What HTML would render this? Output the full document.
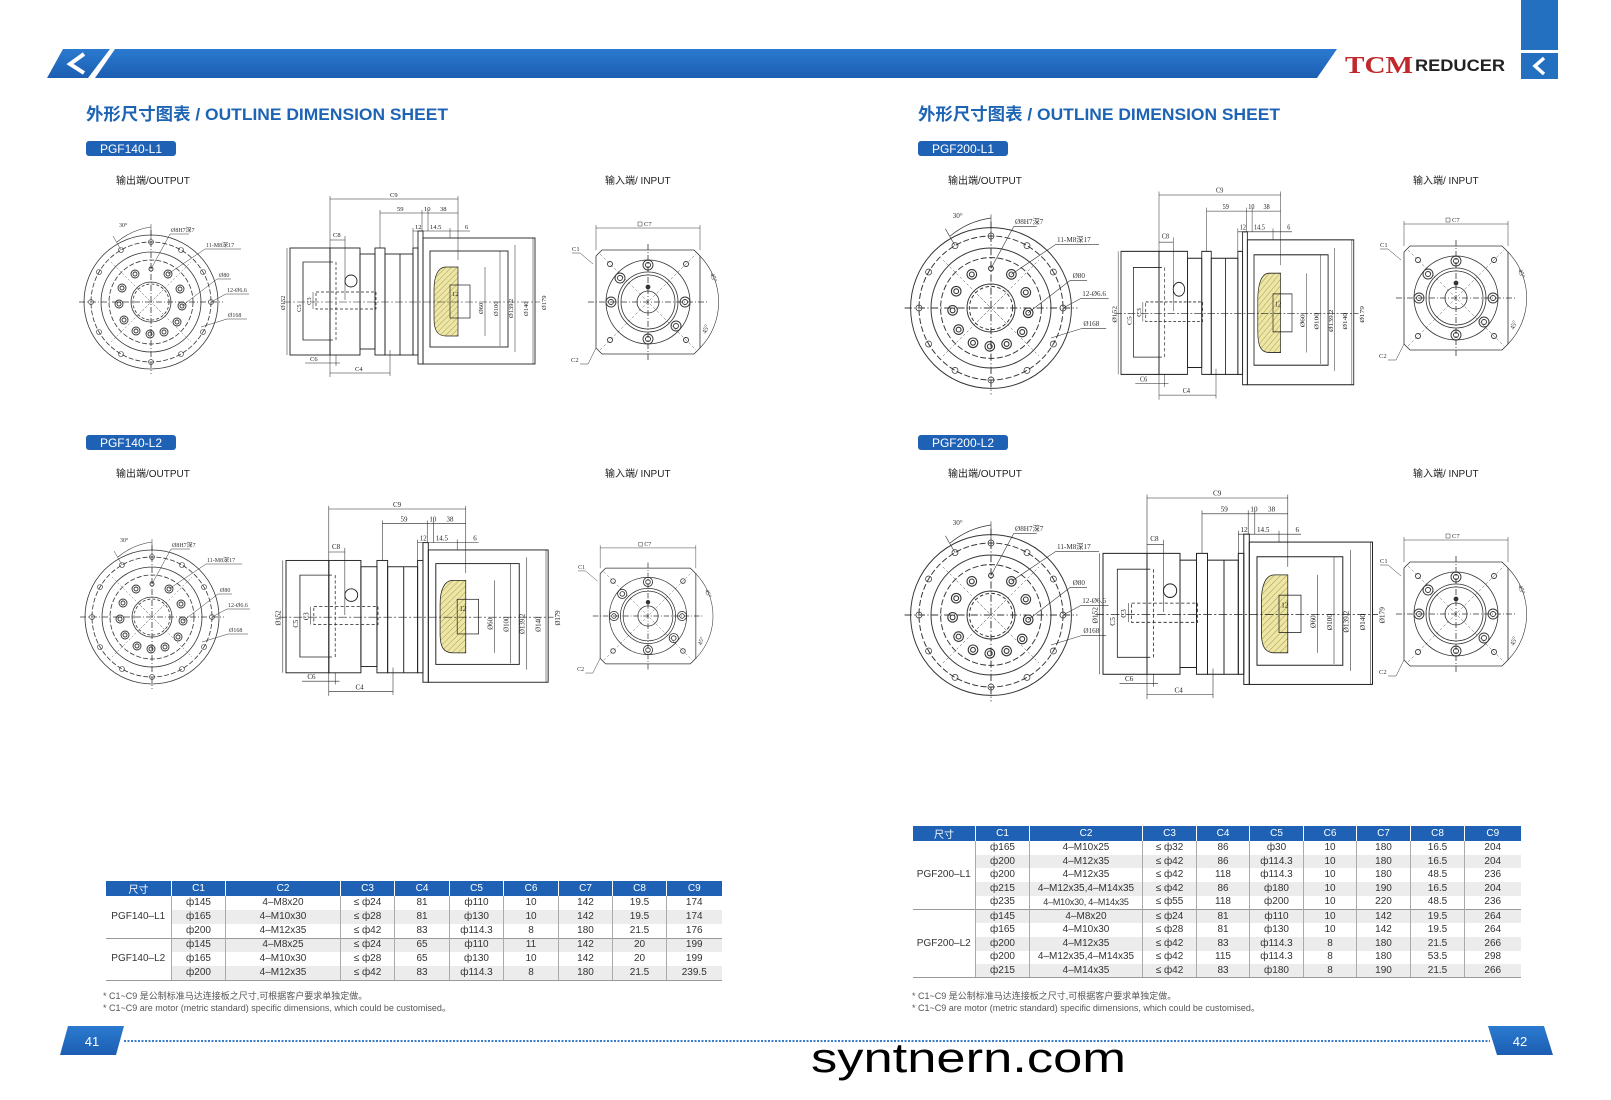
<!DOCTYPE html>
<html><head><meta charset="utf-8">
<style>
html,body{margin:0;padding:0;background:#fff;}
body{width:1611px;height:1100px;position:relative;overflow:hidden;font-family:"Liberation Sans","Noto Sans CJK SC",sans-serif;}
.tbl{position:absolute;border-collapse:collapse;font-size:10px;color:#333;table-layout:fixed;}
.tbl th{background:#1f62b5;color:#fff;font-weight:normal;border-left:1px solid #fff;padding:0;}
.tbl td{border-left:1px solid #aaa;padding:0;text-align:center;white-space:nowrap;overflow:hidden;line-height:12px;}
.tbl tr.g td.v{background:#ececec;}
.tbl td.m{background:#fff;text-align:center;}
.tbl tr.last td{border-bottom:1px solid #999;}
.tbl tr.sep td{border-top:1px solid #999;}
.note{position:absolute;font-size:9px;color:#555;line-height:12px;}
</style></head><body>
<svg width="1611" height="1100" viewBox="0 0 1611 1100" style="position:absolute;left:0;top:0">
<defs>
<linearGradient id="bg" x1="0" y1="0" x2="0" y2="1"><stop offset="0" stop-color="#2a7ad0"/><stop offset="1" stop-color="#1c5eb2"/></linearGradient>
<pattern id="hatch" width="4" height="4" patternUnits="userSpaceOnUse" patternTransform="rotate(45)"><rect width="4" height="4" fill="#eee6a6"/><line x1="0" y1="0" x2="0" y2="4" stroke="#a8a050" stroke-width="1"/></pattern>

<g id="ov" fill="none" stroke="#333" stroke-width="0.8">
 <circle r="67"/><circle r="60" stroke-dasharray="5 2"/><circle r="50"/><circle r="42" stroke-dasharray="5 2"/><circle r="20"/><circle r="18" stroke-dasharray="3 2"/>
 <line x1="-72" y1="0" x2="72" y2="0" stroke-dasharray="6 2 1 2"/><line x1="0" y1="-72" x2="0" y2="72" stroke-dasharray="6 2 1 2"/>
 <g stroke-width="0.6">
 <circle cx="0" cy="-60" r="2.5"/><circle cx="30" cy="-52" r="2.5"/><circle cx="52" cy="-30" r="2.5"/><circle cx="60" cy="0" r="2.5"/><circle cx="52" cy="30" r="2.5"/><circle cx="30" cy="52" r="2.5"/><circle cx="0" cy="60" r="2.5"/><circle cx="-30" cy="52" r="2.5"/><circle cx="-52" cy="30" r="2.5"/><circle cx="-60" cy="0" r="2.5"/><circle cx="-52" cy="-30" r="2.5"/><circle cx="-30" cy="-52" r="2.5"/>
 </g>
 <g stroke-width="0.9">
 <circle cx="0" cy="-33" r="2"/>
 <circle cx="17" cy="-28" r="4"/><circle cx="17" cy="-28" r="2"/><circle cx="29" cy="-13" r="4"/><circle cx="29" cy="-13" r="2"/><circle cx="31" cy="4" r="4"/><circle cx="31" cy="4" r="2"/><circle cx="26" cy="20" r="4"/><circle cx="26" cy="20" r="2"/><circle cx="13" cy="30" r="4"/><circle cx="13" cy="30" r="2"/><circle cx="-1" cy="32" r="4"/><circle cx="-1" cy="32" r="2"/><circle cx="-15" cy="29" r="4"/><circle cx="-15" cy="29" r="2"/><circle cx="-27" cy="18" r="4"/><circle cx="-27" cy="18" r="2"/><circle cx="-32" cy="2" r="4"/><circle cx="-32" cy="2" r="2"/><circle cx="-29" cy="-14" r="4"/><circle cx="-29" cy="-14" r="2"/><circle cx="-16" cy="-28" r="4"/><circle cx="-16" cy="-28" r="2"/>
 </g>
 <g stroke-width="0.4" stroke-dasharray="2 2"><line x1="-14" y1="-14" x2="14" y2="14"/><line x1="-14" y1="14" x2="14" y2="-14"/><line x1="-40" y1="-40" x2="40" y2="40"/><line x1="-40" y1="40" x2="40" y2="-40"/></g>
 <path d="M-34 -60 A68 68 0 0 1 0 -75" stroke-width="0.6"/><line x1="0" y1="-60" x2="0" y2="-78" stroke-width="0.5"/><line x1="-30" y1="-52" x2="-38" y2="-66" stroke-width="0.5"/>
 <g stroke-width="0.5"><polyline points="0,-33 19,-68 38,-68"/><polyline points="17,-28 54,-53 90,-53"/><polyline points="31,4 66,-23 80,-23"/><polyline points="60,0 75,-8 98,-8"/><polyline points="50,25 76,17 96,17"/></g>
 <g fill="#333" stroke="none" font-family="Liberation Serif,serif" font-size="6"><text x="-32" y="-75">30°</text><text x="20" y="-70">Ø8H7深7</text><text x="55" y="-55">11-M8深17</text><text x="68" y="-25">Ø80</text><text x="76" y="-10">12-Ø6.6</text><text x="77" y="15">Ø168</text></g>
</g>

<g id="iv" fill="none" stroke="#333" stroke-width="0.8">
 <path d="M-46 -52 H46 L52 -46 V46 L46 52 H-46 L-52 46 V-46 Z"/>
 <line x1="-52" y1="-52" x2="-52" y2="-77" stroke-width="0.5"/><line x1="52" y1="-52" x2="52" y2="-77" stroke-width="0.5"/><line x1="-52" y1="-74" x2="52" y2="-74" stroke-width="0.5"/>
 <rect x="-10" y="-80" width="4" height="4" stroke-width="0.5"/>
 <circle r="42"/><circle r="30"/><circle r="27"/><circle r="11"/>
 <line x1="-60" y1="0" x2="60" y2="0" stroke-dasharray="6 2 1 2"/><line x1="0" y1="-58" x2="0" y2="58" stroke-dasharray="6 2 1 2"/>
 <g stroke-width="0.4" stroke-dasharray="3 2"><line x1="-48" y1="-48" x2="48" y2="48"/><line x1="-48" y1="48" x2="48" y2="-48"/></g>
 <g stroke-width="0.9"><circle cx="0" cy="-37" r="5"/><circle cx="0" cy="-37" r="2.5"/><circle cx="0" cy="37" r="5"/><circle cx="0" cy="37" r="2.5"/><circle cx="-37" cy="0" r="5"/><circle cx="-37" cy="0" r="2.5"/><circle cx="37" cy="0" r="5"/><circle cx="37" cy="0" r="2.5"/><circle cx="-28" cy="-24" r="5"/><circle cx="-28" cy="-24" r="2.5"/><circle cx="28" cy="24" r="5"/><circle cx="28" cy="24" r="2.5"/><circle cx="-38" cy="-38" r="2.5"/><circle cx="38" cy="-38" r="2.5"/><circle cx="-38" cy="38" r="2.5"/><circle cx="38" cy="38" r="2.5"/></g>
 <circle cx="0" cy="-15" r="2" fill="#333"/>
 <path d="M52 -46 A66 66 0 0 1 52 46" stroke-width="0.6"/>
 <g stroke-width="0.5"><polyline points="-76,-49 -68,-49 -55,-38"/><polyline points="-68,62 -60,62 -52,46"/></g>
 <g fill="#333" stroke="none" font-family="Liberation Serif,serif" font-size="6.5"><text x="-4" y="-76">C7</text><text x="-76" y="-51">C1</text><text x="-77" y="60">C2</text><text x="62" y="-28" transform="rotate(70 62 -28)">45°</text><text x="58" y="32" transform="rotate(-70 58 32)">45°</text></g>
</g>

<g id="sv" fill="none" stroke="#222" stroke-width="0.9">
 <g stroke-width="0.5"><line x1="330" y1="199" x2="458" y2="199"/><line x1="330" y1="196" x2="330" y2="377"/><line x1="458" y1="196" x2="458" y2="260"/>
 <line x1="380" y1="213" x2="458" y2="213"/><line x1="380" y1="210" x2="380" y2="248"/><line x1="422" y1="210" x2="422" y2="231"/><line x1="428" y1="210" x2="428" y2="231"/>
 <line x1="413" y1="231" x2="470" y2="231"/><line x1="413" y1="228" x2="413" y2="250"/><line x1="450" y1="228" x2="450" y2="238"/>
 <line x1="330" y1="240" x2="345" y2="240"/><line x1="345" y1="236" x2="345" y2="300"/>
 <line x1="305" y1="363" x2="340" y2="363"/><line x1="336" y1="355" x2="336" y2="366"/><line x1="330" y1="373" x2="390" y2="373"/><line x1="390" y1="350" x2="390" y2="376"/>
 <line x1="287" y1="248" x2="287" y2="355"/><line x1="303" y1="262" x2="303" y2="340"/><line x1="313" y1="292" x2="313" y2="309"/>
 <line x1="485" y1="267" x2="485" y2="336"/><line x1="500" y1="251" x2="500" y2="346"/><line x1="515" y1="245" x2="515" y2="352"/><line x1="533" y1="238" x2="533" y2="364"/>
 </g>
 <rect x="290" y="248" width="40" height="107"/>
 <path d="M333 262 H303 V340 H333" stroke-width="0.7"/>
 <rect x="316" y="292" width="60" height="17" stroke-dasharray="3 2" stroke-width="0.7"/>
 <line x1="336" y1="262" x2="336" y2="340" stroke-dasharray="3 2" stroke-width="0.7"/>
 <rect x="330" y="248" width="30" height="107"/><rect x="360" y="254" width="15" height="95"/>
 <rect x="375" y="248" width="10" height="107"/>
 <circle cx="351" cy="281" r="6"/>
 <rect x="385" y="254" width="28" height="101"/><line x1="400" y1="254" x2="400" y2="355"/>
 <rect x="413" y="248" width="5" height="107"/><rect x="418" y="231" width="5" height="133"/>
 <rect x="423" y="238" width="112" height="126"/>
 <rect x="430" y="251" width="78" height="96"/>
 <path d="M446 267 H458 V336 H446 C437 336 434 330 434 318 V290 C434 276 438 267 446 267 Z" fill="url(#hatch)" stroke-width="0.7"/>
 <rect x="450" y="285" width="20" height="33" stroke-width="0.7"/>
 <line x1="283" y1="302" x2="540" y2="302" stroke-dasharray="8 2 2 2" stroke-width="0.6"/>
 <g fill="#222" stroke="none" font-family="Liberation Serif,serif" font-size="6.5"><text x="390" y="197">C9</text><text x="397" y="211">59</text><text x="424" y="211">10</text><text x="440" y="211">38</text><text x="415" y="229">12</text><text x="430" y="229">14.5</text><text x="465" y="229">6</text><text x="333" y="237">C8</text><text x="310" y="361">C6</text><text x="355" y="371">C4</text><text x="452" y="296">12</text>
 <text transform="translate(285 310) rotate(-90)">Ø152</text><text transform="translate(301 312) rotate(-90)">C5</text><text transform="translate(311 305) rotate(-90)">C3</text><text transform="translate(483 314) rotate(-90)">Ø60</text><text transform="translate(498 316) rotate(-90)">Ø100</text><text transform="translate(513 318) rotate(-90)">Ø139.2</text><text transform="translate(528 316) rotate(-90)">Ø140</text><text transform="translate(546 310) rotate(-90)">Ø179</text></g>
</g>
</defs>

<!-- header -->
<path d="M63 49 H110 L88 78 H47 Z" fill="url(#bg)"/>
<path d="M84 54 L70 64 L84 73" fill="none" stroke="#fff" stroke-width="4"/>
<path d="M115 49 H1337 L1317 78 H95 Z" fill="url(#bg)"/>
<rect x="1521" y="0" width="37" height="50" fill="#2470c0"/>
<rect x="1521" y="53" width="37" height="26" fill="#2470c0"/>
<path d="M1544 58 L1535 66 L1544 74" fill="none" stroke="#fff" stroke-width="3.5"/>
<text x="1345" y="73" font-family="Liberation Serif,serif" font-weight="bold" font-size="24" fill="#c0282c" textLength="68" lengthAdjust="spacingAndGlyphs">TCM</text>
<text x="1415" y="71" font-family="Liberation Sans,sans-serif" font-weight="bold" font-size="17" fill="#222" textLength="90" lengthAdjust="spacingAndGlyphs">REDUCER</text>

<!-- titles -->
<g font-family="Liberation Sans,'Noto Sans CJK SC',sans-serif" font-weight="bold" font-size="17" fill="#1e64b4">
<text x="86" y="120" textLength="362" lengthAdjust="spacingAndGlyphs">外形尺寸图表 / OUTLINE DIMENSION SHEET</text>
<text x="918" y="120" textLength="362" lengthAdjust="spacingAndGlyphs">外形尺寸图表 / OUTLINE DIMENSION SHEET</text>
</g>
<g fill="#1f62b5"><rect x="86" y="141" width="90" height="15" rx="3"/><rect x="86" y="435" width="90" height="15" rx="3"/><rect x="918" y="141" width="90" height="15" rx="3"/><rect x="918" y="435" width="90" height="15" rx="3"/></g>
<g font-family="Liberation Sans,sans-serif" font-size="12" fill="#fff" text-anchor="middle">
<text x="131" y="153">PGF140-L1</text><text x="131" y="447">PGF140-L2</text><text x="963" y="153">PGF200-L1</text><text x="963" y="447">PGF200-L2</text></g>
<g font-family="Liberation Sans,'Noto Sans CJK SC',sans-serif" font-size="10" fill="#222">
<text x="116" y="184">输出端/OUTPUT</text><text x="605" y="184">输入端/ INPUT</text>
<text x="948" y="184">输出端/OUTPUT</text><text x="1413" y="184">输入端/ INPUT</text>
<text x="116" y="477">输出端/OUTPUT</text><text x="605" y="477">输入端/ INPUT</text>
<text x="948" y="477">输出端/OUTPUT</text><text x="1413" y="477">输入端/ INPUT</text></g>

<!-- drawings -->
<use href="#ov" transform="translate(151 302)"/>
<use href="#ov" transform="translate(152 617)"/>
<use href="#ov" transform="translate(991 308) scale(1.2)"/>
<use href="#ov" transform="translate(991 615) scale(1.2)"/>
<use href="#iv" transform="translate(648 302)"/>
<use href="#iv" transform="translate(648 616) scale(0.92)"/>
<use href="#iv" transform="translate(1456 298)"/>
<use href="#iv" transform="translate(1456 614)"/>
<use href="#sv"/>
<use href="#sv" transform="translate(286 509) scale(1.07 1.05) translate(-290 -199)"/>
<use href="#sv" transform="translate(1121 195) scale(0.95 1.15) translate(-290 -199)"/>
<use href="#sv" transform="translate(1103 498) scale(1.1 1.13) translate(-290 -199)"/>

<!-- footer -->
<path d="M68 1026 H124 L116 1055 H60 Z" fill="url(#bg)"/>
<path d="M1488 1026 H1544 L1553 1055 H1497 Z" fill="url(#bg)"/>
<line x1="124" y1="1041" x2="1490" y2="1041" stroke="#3a7bc8" stroke-width="2" stroke-dasharray="2 1.5"/>
<g font-family="Liberation Sans,sans-serif" font-size="13" fill="#fff" text-anchor="middle"><text x="92" y="1046">41</text><text x="1520" y="1046">42</text></g>
<text x="811" y="1072" font-family="Liberation Sans,sans-serif" font-size="42" fill="#000" textLength="315" lengthAdjust="spacingAndGlyphs">syntnern.com</text>
</svg>

<table class="tbl" style="left:105px;top:881px;width:616px">
<colgroup><col style="width:66px"><col style="width:54px"><col style="width:115px"><col style="width:54px"><col style="width:55px"><col style="width:54px"><col style="width:55px"><col style="width:54px"><col style="width:54px"><col style="width:55px"></colgroup>
<tr style="height:13px"><th>尺寸</th><th>C1</th><th>C2</th><th>C3</th><th>C4</th><th>C5</th><th>C6</th><th>C7</th><th>C8</th><th>C9</th></tr>
<tr style="height:14px"><td class="m" rowspan="3" style="border-left:none">PGF140–L1</td><td class="v">ф145</td><td class="v">4–M8x20</td><td class="v">≤ ф24</td><td class="v">81</td><td class="v">ф110</td><td class="v">10</td><td class="v">142</td><td class="v">19.5</td><td class="v">174</td></tr>
<tr class="g" style="height:14px"><td class="v">ф165</td><td class="v">4–M10x30</td><td class="v">≤ ф28</td><td class="v">81</td><td class="v">ф130</td><td class="v">10</td><td class="v">142</td><td class="v">19.5</td><td class="v">174</td></tr>
<tr style="height:14px"><td class="v">ф200</td><td class="v">4–M12x35</td><td class="v">≤ ф42</td><td class="v">83</td><td class="v">ф114.3</td><td class="v">8</td><td class="v">180</td><td class="v">21.5</td><td class="v">176</td></tr>
<tr class="g sep" style="height:14px"><td class="m" rowspan="3" style="border-left:none;border-bottom:1px solid #999">PGF140–L2</td><td class="v">ф145</td><td class="v">4–M8x25</td><td class="v">≤ ф24</td><td class="v">65</td><td class="v">ф110</td><td class="v">11</td><td class="v">142</td><td class="v">20</td><td class="v">199</td></tr>
<tr style="height:14px"><td class="v">ф165</td><td class="v">4–M10x30</td><td class="v">≤ ф28</td><td class="v">65</td><td class="v">ф130</td><td class="v">10</td><td class="v">142</td><td class="v">20</td><td class="v">199</td></tr>
<tr class="g last" style="height:14px"><td class="v">ф200</td><td class="v">4–M12x35</td><td class="v">≤ ф42</td><td class="v">83</td><td class="v">ф114.3</td><td class="v">8</td><td class="v">180</td><td class="v">21.5</td><td class="v">239.5</td></tr>
</table>

<table class="tbl" style="left:912px;top:826px;width:608px">
<colgroup><col style="width:63px"><col style="width:54px"><col style="width:113px"><col style="width:54px"><col style="width:53px"><col style="width:54px"><col style="width:53px"><col style="width:54px"><col style="width:54px"><col style="width:56px"></colgroup>
<tr style="height:15px"><th>尺寸</th><th>C1</th><th>C2</th><th>C3</th><th>C4</th><th>C5</th><th>C6</th><th>C7</th><th>C8</th><th>C9</th></tr>
<tr style="height:13.7px"><td class="m" rowspan="5" style="border-left:none">PGF200–L1</td><td class="v">ф165</td><td class="v">4–M10x25</td><td class="v">≤ ф32</td><td class="v">86</td><td class="v">ф30</td><td class="v">10</td><td class="v">180</td><td class="v">16.5</td><td class="v">204</td></tr>
<tr class="g" style="height:13.7px"><td class="v">ф200</td><td class="v">4–M12x35</td><td class="v">≤ ф42</td><td class="v">86</td><td class="v">ф114.3</td><td class="v">10</td><td class="v">180</td><td class="v">16.5</td><td class="v">204</td></tr>
<tr style="height:13.7px"><td class="v">ф200</td><td class="v">4–M12x35</td><td class="v">≤ ф42</td><td class="v">118</td><td class="v">ф114.3</td><td class="v">10</td><td class="v">180</td><td class="v">48.5</td><td class="v">236</td></tr>
<tr class="g" style="height:13.7px"><td class="v">ф215</td><td class="v">4–M12x35,4–M14x35</td><td class="v">≤ ф42</td><td class="v">86</td><td class="v">ф180</td><td class="v">10</td><td class="v">190</td><td class="v">16.5</td><td class="v">204</td></tr>
<tr style="height:13.7px"><td class="v">ф235</td><td class="v" style="font-size:9px;letter-spacing:-0.2px">4–M10x30, 4–M14x35</td><td class="v">≤ ф55</td><td class="v">118</td><td class="v">ф200</td><td class="v">10</td><td class="v">220</td><td class="v">48.5</td><td class="v">236</td></tr>
<tr class="g sep" style="height:13.7px"><td class="m" rowspan="5" style="border-left:none;border-bottom:1px solid #999">PGF200–L2</td><td class="v">ф145</td><td class="v">4–M8x20</td><td class="v">≤ ф24</td><td class="v">81</td><td class="v">ф110</td><td class="v">10</td><td class="v">142</td><td class="v">19.5</td><td class="v">264</td></tr>
<tr style="height:13.7px"><td class="v">ф165</td><td class="v">4–M10x30</td><td class="v">≤ ф28</td><td class="v">81</td><td class="v">ф130</td><td class="v">10</td><td class="v">142</td><td class="v">19.5</td><td class="v">264</td></tr>
<tr class="g" style="height:13.7px"><td class="v">ф200</td><td class="v">4–M12x35</td><td class="v">≤ ф42</td><td class="v">83</td><td class="v">ф114.3</td><td class="v">8</td><td class="v">180</td><td class="v">21.5</td><td class="v">266</td></tr>
<tr style="height:13.7px"><td class="v">ф200</td><td class="v">4–M12x35,4–M14x35</td><td class="v">≤ ф42</td><td class="v">115</td><td class="v">ф114.3</td><td class="v">8</td><td class="v">180</td><td class="v">53.5</td><td class="v">298</td></tr>
<tr class="g last" style="height:13.7px"><td class="v">ф215</td><td class="v">4–M14x35</td><td class="v">≤ ф42</td><td class="v">83</td><td class="v">ф180</td><td class="v">8</td><td class="v">190</td><td class="v">21.5</td><td class="v">266</td></tr>
</table>

<div class="note" style="left:103px;top:990px">* C1~C9 是公制标准马达连接板之尺寸,可根据客户要求单独定做。<br>* C1~C9 are motor (metric standard) specific dimensions, which could be customised。</div>
<div class="note" style="left:912px;top:990px">* C1~C9 是公制标准马达连接板之尺寸,可根据客户要求单独定做。<br>* C1~C9 are motor (metric standard) specific dimensions, which could be customised。</div>
</body></html>
